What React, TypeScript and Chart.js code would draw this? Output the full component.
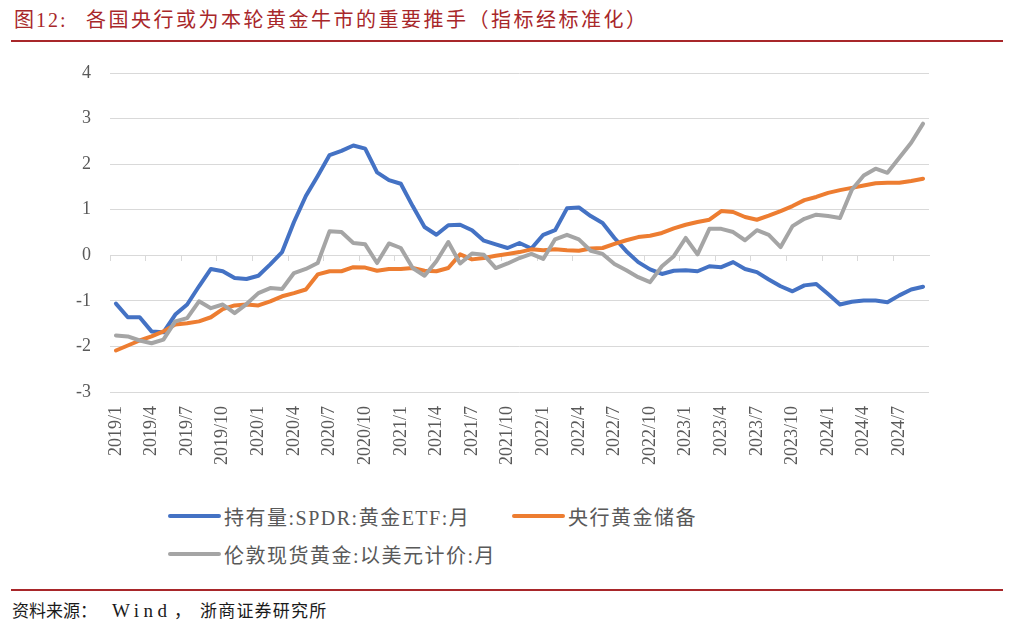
import React, { useEffect, useRef } from "react";
import { Chart, registerables } from "chart.js";

Chart.register(...registerables);

const months: string[] = [
  "2019/1", "2019/2", "2019/3", "2019/4", "2019/5", "2019/6", "2019/7", "2019/8", "2019/9", "2019/10", "2019/11", "2019/12",
  "2020/1", "2020/2", "2020/3", "2020/4", "2020/5", "2020/6", "2020/7", "2020/8", "2020/9", "2020/10", "2020/11", "2020/12",
  "2021/1", "2021/2", "2021/3", "2021/4", "2021/5", "2021/6", "2021/7", "2021/8", "2021/9", "2021/10", "2021/11", "2021/12",
  "2022/1", "2022/2", "2022/3", "2022/4", "2022/5", "2022/6", "2022/7", "2022/8", "2022/9", "2022/10", "2022/11", "2022/12",
  "2023/1", "2023/2", "2023/3", "2023/4", "2023/5", "2023/6", "2023/7", "2023/8", "2023/9", "2023/10", "2023/11", "2023/12",
  "2024/1", "2024/2", "2024/3", "2024/4", "2024/5", "2024/6", "2024/7", "2024/8", "2024/9",
];

const spdrHoldings: number[] = [
  -1.06, -1.36, -1.36, -1.67, -1.69, -1.30, -1.08, -0.68, -0.30, -0.35, -0.50, -0.52,
  -0.45, -0.20, 0.07, 0.73, 1.30, 1.74, 2.20, 2.29, 2.41, 2.34, 1.82, 1.65,
  1.57, 1.08, 0.62, 0.45, 0.66, 0.67, 0.55, 0.32, 0.24, 0.16, 0.27, 0.15,
  0.45, 0.55, 1.03, 1.05, 0.86, 0.71, 0.38, 0.09, -0.15, -0.31, -0.41, -0.34,
  -0.33, -0.35, -0.24, -0.26, -0.15, -0.30, -0.37, -0.53, -0.68, -0.79, -0.66, -0.63,
  -0.85, -1.08, -1.02, -0.99, -0.99, -1.03, -0.88, -0.75, -0.69,
];

const centralBankReserves: number[] = [
  -2.09, -1.98, -1.87, -1.78, -1.67, -1.52, -1.49, -1.45, -1.36, -1.18, -1.10, -1.08,
  -1.10, -1.01, -0.90, -0.83, -0.75, -0.42, -0.35, -0.35, -0.26, -0.27, -0.34, -0.30,
  -0.30, -0.28, -0.34, -0.35, -0.28, 0.02, -0.09, -0.06, -0.01, 0.03, 0.07, 0.13,
  0.11, 0.13, 0.11, 0.10, 0.15, 0.16, 0.25, 0.33, 0.40, 0.43, 0.49, 0.59,
  0.67, 0.73, 0.78, 0.97, 0.95, 0.84, 0.78, 0.87, 0.97, 1.08, 1.21, 1.28,
  1.37, 1.43, 1.48, 1.53, 1.58, 1.59, 1.59, 1.63, 1.68,
];

const londonGoldUsd: number[] = [
  -1.76, -1.78, -1.87, -1.93, -1.85, -1.45, -1.38, -1.01, -1.16, -1.08, -1.27, -1.07,
  -0.83, -0.72, -0.74, -0.39, -0.30, -0.17, 0.53, 0.51, 0.27, 0.24, -0.17, 0.26,
  0.16, -0.28, -0.45, -0.13, 0.29, -0.18, 0.04, 0.01, -0.28, -0.18, -0.06, 0.03,
  -0.08, 0.35, 0.45, 0.35, 0.10, 0.03, -0.19, -0.33, -0.48, -0.59, -0.24, -0.02,
  0.38, 0.02, 0.58, 0.58, 0.51, 0.33, 0.55, 0.45, 0.18, 0.64, 0.80, 0.89,
  0.86, 0.82, 1.44, 1.75, 1.90, 1.81, 2.14, 2.47, 2.89,
];

const seriesNames: string[] = [
  "持有量:SPDR:黄金ETF:月",
  "央行黄金储备",
  "伦敦现货黄金:以美元计价:月",
];

const seriesColors: string[] = ["#4472C4", "#ED7D31", "#A5A5A5"];

const titleLead = "图12:";
const titleText = "各国央行或为本轮黄金牛市的重要推手（指标经标准化）";
const sourceLead = "资料来源：";
const sourceWind = "Wind";
const sourceComma = "，";
const sourceOrg = "浙商证券研究所";

const serif = '"Liberation Serif", "Times New Roman", "Noto Sans CJK SC", serif';
const axisColor = "#595959";
const gridColor = "#D9D9D9";
const titleRed = "#A8272A";

function LegendItem({ left, top, color, label }: { left: number; top: number; color: string; label: string }) {
  return (
    <div style={{ position: "absolute", left, top: top - 14, height: 28, display: "flex", alignItems: "center" }}>
      <div style={{ width: 53, height: 4, borderRadius: 2, background: color }} />
      <span style={{ marginLeft: 3, fontSize: 20, color: axisColor, fontFamily: serif, whiteSpace: "nowrap", letterSpacing: 1.5 }}>
        {label}
      </span>
    </div>
  );
}

function Txt({ left, top, size, color, text, spacing = 0 }: { left: number; top: number; size: number; color: string; text: string; spacing?: number }) {
  return (
    <div style={{ position: "absolute", left, top, height: 28, lineHeight: "28px", fontSize: size, color, fontFamily: serif, letterSpacing: spacing, whiteSpace: "nowrap" }}>
      {text}
    </div>
  );
}

export default function App() {
  const canvasRef = useRef<HTMLCanvasElement | null>(null);

  useEffect(() => {
    const canvas = canvasRef.current;
    if (!canvas) return;
    const chart = new Chart(canvas, {
      type: "line",
      data: {
        labels: months,
        datasets: [spdrHoldings, centralBankReserves, londonGoldUsd].map((d, i) => ({
          label: seriesNames[i],
          data: d,
          borderColor: seriesColors[i],
          backgroundColor: seriesColors[i],
          borderWidth: 4,
          pointRadius: 0,
          pointHoverRadius: 0,
          tension: 0,
          borderJoinStyle: "round" as const,
          borderCapStyle: "round" as const,
          fill: false,
          xAxisID: "x",
          yAxisID: "y",
          order: 2 - i,
        })),
      },
      options: {
        responsive: false,
        animation: false,
        maintainAspectRatio: false,
        layout: { padding: { top: 23, right: 80, left: 0, bottom: 0 } },
        plugins: {
          legend: { display: false },
          tooltip: { enabled: false },
          title: { display: false },
        },
        scales: {
          y: {
            type: "linear",
            min: -3,
            max: 4,
            ticks: {
              stepSize: 1,
              color: axisColor,
              font: { family: serif, size: 18 },
              padding: 0,
            },
            grid: { color: gridColor, lineWidth: 1, drawTicks: true, tickLength: 19, tickColor: "rgba(0,0,0,0)" },
            border: { display: false },
            afterFit: (scale: any) => {
              scale.width = 110;
            },
          },
          x: {
            type: "category",
            position: "bottom",
            offset: true,
            grid: { display: false, drawTicks: false },
            border: { display: false },
            ticks: {
              autoSkip: false,
              minRotation: 90,
              maxRotation: 90,
              padding: 14,
              color: axisColor,
              font: { family: serif, size: 18 },
              callback: (_v: any, idx: number) => (idx % 3 === 0 ? months[idx] : ""),
            },
            afterFit: (scale: any) => {
              scale.height = 98;
            },
          },
          x2: {
            type: "category",
            position: { y: 0 } as any,
            offset: true,
            ticks: { display: false },
            grid: {
              drawOnChartArea: false,
              drawTicks: true,
              tickLength: 5,
              offset: true,
              color: (ctx: any) => (ctx.index % 3 === 0 ? gridColor : "rgba(0,0,0,0)"),
              lineWidth: 1,
            },
            border: { display: true, color: gridColor, width: 1 },
          },
        },
      },
    });
    return () => chart.destroy();
  }, []);

  return (
    <div style={{ position: "absolute", left: 0, top: 0, width: 1009, height: 631, background: "#ffffff", overflow: "hidden" }}>
      <Txt left={14} top={6} size={20} color={titleRed} text={titleLead} spacing={2} />
      <Txt left={86} top={6} size={20} color={titleRed} text={titleText} spacing={2.5} />
      <div style={{ position: "absolute", left: 11, top: 40, width: 992, height: 2, background: titleRed }} />

      <canvas ref={canvasRef} width={1009} height={440} style={{ position: "absolute", left: 0, top: 50, width: 1009, height: 440 }} />

      <LegendItem left={168} top={516} color={seriesColors[0]} label={seriesNames[0]} />
      <LegendItem left={512} top={516} color={seriesColors[1]} label={seriesNames[1]} />
      <LegendItem left={168} top={554} color={seriesColors[2]} label={seriesNames[2]} />

      <div style={{ position: "absolute", left: 11, top: 589, width: 992, height: 2, background: titleRed }} />
      <Txt left={12} top={598} size={17} color="#1a1a1a" text={sourceLead} />
      <Txt left={112} top={597} size={19} color="#1a1a1a" text={sourceWind} spacing={4.5} />
      <Txt left={174} top={598} size={17} color="#1a1a1a" text={sourceComma} />
      <Txt left={200} top={598} size={17} color="#1a1a1a" text={sourceOrg} spacing={1.2} />
    </div>
  );
}
